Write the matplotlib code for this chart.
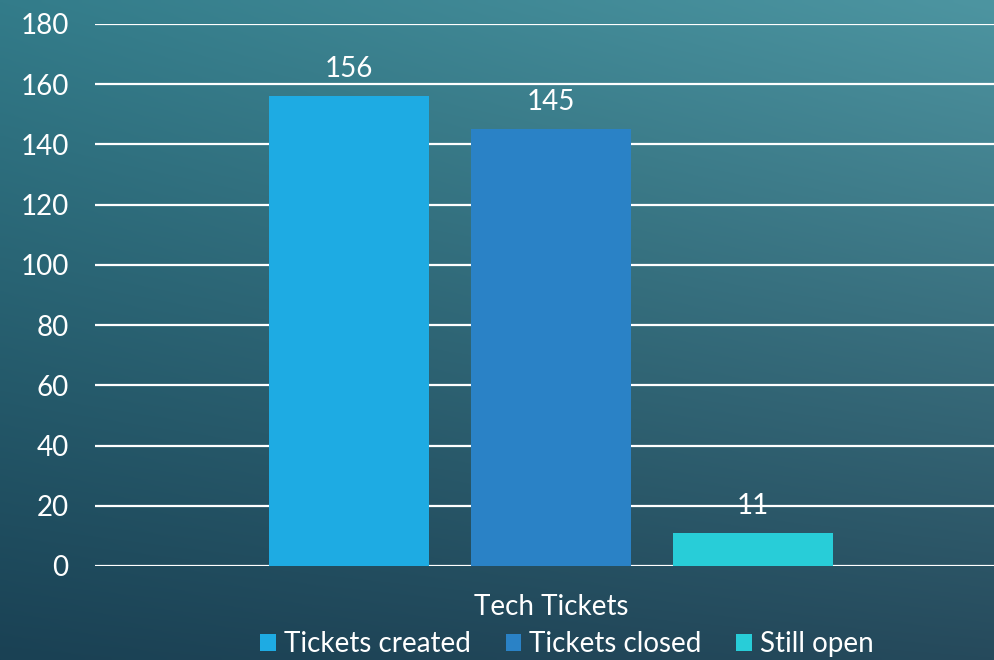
import numpy as np
import matplotlib
matplotlib.use("Agg")
import matplotlib.pyplot as plt
from matplotlib.patches import Patch

category = "Tech Tickets"
series = ["Tickets created", "Tickets closed", "Still open"]
values = [156, 145, 11]
colors = ["#1eabe3", "#2a82c6", "#28cdd8"]
yticks = [0, 20, 40, 60, 80, 100, 120, 140, 160, 180]

plt.rcParams['font.family'] = ['Lato', 'DejaVu Sans']

W, H = 995, 660
fig = plt.figure(figsize=(W / 100, H / 100), dpi=100)

# gradient background
bg = fig.add_axes([0, 0, 1, 1], zorder=0)
tl = np.array([0x33, 0x7c, 0x8a]) / 255
tr = np.array([0x4d, 0x95, 0xa1]) / 255
bl = np.array([0x1a, 0x41, 0x54]) / 255
br = np.array([0x26, 0x4a, 0x5c]) / 255
u = np.linspace(0, 1, 200)[None, :, None]
v = np.linspace(0, 1, 140)[:, None, None]
img = (1 - v) * ((1 - u) * tl + u * tr) + v * ((1 - u) * bl + u * br)
bg.imshow(img, aspect='auto', extent=[0, 1, 0, 1], interpolation='bilinear')
bg.axis('off')

# plot area: left px 95, y0 at 566, y180 at 24
left = 95 / W
bottom = (H - 566) / H
top = (H - 24) / H
ax = fig.add_axes([left, bottom, 1 - left, top - bottom], zorder=1)
ax.patch.set_alpha(0)

unit = 202.0
xs = [0, 1, 2]
bw = 160 / unit
for x, val, c, name in zip(xs, values, colors, series):
    b = ax.bar(x, val, width=bw, color=c, zorder=3, label=name)
    ax.bar_label(b, labels=[str(val)], padding=10, color='white', fontsize=20)

ax.set_xlim((95 - 349) / unit, (995 - 349) / unit)
ax.set_ylim(0, 180)
ax.set_yticks(yticks)
ax.set_yticklabels([str(t) for t in yticks], color='white', fontsize=20)
ax.set_xticks([1])
ax.set_xticklabels([category], color='white', fontsize=20)
ax.tick_params(axis='both', length=0)
ax.tick_params(axis='y', pad=19)
ax.tick_params(axis='x', pad=20)
ax.grid(axis='y', color='white', linewidth=1.6, zorder=1)
ax.set_axisbelow(True)
for s in ax.spines.values():
    s.set_visible(False)

handles = [Patch(facecolor=c, edgecolor='none', label=n) for c, n in zip(colors, series)]
leg = fig.legend(handles=handles, loc='center', bbox_to_anchor=(567 / W, 1 - 644 / H),
                 ncol=3, frameon=False, fontsize=20, handlelength=0.55, handleheight=0.55,
                 handletextpad=0.3, columnspacing=1.25, labelcolor='white', borderpad=0)

fig.savefig("out.png", dpi=100)
